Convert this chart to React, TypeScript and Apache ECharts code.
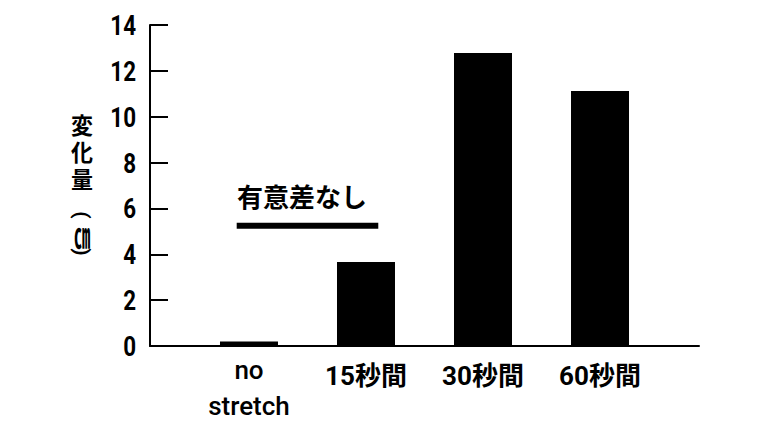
import React, { useEffect, useRef } from "react";
import * as echarts from "echarts";

const categories = ["no\nstretch", "15秒間", "30秒間", "60秒間"];
const values = [0.2, 3.66, 12.78, 11.12];
const yMin = 0;
const yMax = 14;
const yInterval = 2;
const yTickLabels = [0, 2, 4, 6, 8, 10, 12, 14];
const yNameChars = ["変", "化", "量"];
const yNameUnit = "㎝";
const annotationText = "有意差なし";
const annotationLevel = 5.25;
const annotationFrom = -0.105;
const annotationTo = 1.105;

const LAT_FONT = "Roboto, 'Noto Sans', sans-serif";
const CJK_FONT = "'Noto Sans CJK JP', sans-serif";

export default function App() {
  const ref = useRef<HTMLDivElement>(null);
  useEffect(() => {
    if (!ref.current) return;
    const chart = echarts.init(ref.current, undefined, { renderer: "svg" });
    const gridLeft = 150;
    const gridTop = 25;
    const gridWidth = 549;
    const gridHeight = 321;
    const xMinV = -0.846;
    const xMaxV = 3.846;
    const band = gridWidth / (xMaxV - xMinV);
    const g1Left = gridLeft + (-0.5 - xMinV) * band;
    chart.setOption({
      animation: false,
      backgroundColor: "#ffffff",
      grid: [
        { left: gridLeft, top: gridTop, width: gridWidth, height: gridHeight, outerBoundsMode: "none", containLabel: false },
        { left: g1Left, top: gridTop, width: band * categories.length, height: gridHeight, outerBoundsMode: "none", containLabel: false },
      ],
      xAxis: [
        {
          type: "value",
          gridIndex: 0,
          min: xMinV,
          max: xMaxV,
          axisLine: { show: true, onZero: true, lineStyle: { color: "#000", width: 2 } },
          axisTick: { show: false },
          axisLabel: { show: false },
          splitLine: { show: false },
        },
        {
          type: "category",
          gridIndex: 1,
          data: categories,
          axisLine: { show: false },
          axisTick: { show: false },
          axisLabel: {
            interval: 0,
            margin: 6,
            color: "#000",
            formatter: (v: string) =>
              v.indexOf("\n") >= 0
                ? v.split("\n").map((s) => "{lat|" + s + "}").join("\n")
                : "{cjk|" + v + "}",
            rich: {
              lat: { fontFamily: LAT_FONT, fontSize: 26, fontWeight: 500, color: "#000", lineHeight: 36 },
              cjk: { fontFamily: LAT_FONT + ", " + CJK_FONT, fontSize: 26, fontWeight: "bold", color: "#000", lineHeight: 48 },
            },
          },
        },
      ],
      yAxis: [
        {
          type: "value",
          gridIndex: 0,
          min: yMin,
          max: yMax,
          interval: yInterval,
          axisLine: { show: true, onZero: false, lineStyle: { color: "#000", width: 2 } },
          axisTick: { show: true, inside: true, length: 18, lineStyle: { color: "#000", width: 2 } },
          axisLabel: { show: false },
          splitLine: { show: false },
        },
        {
          type: "value",
          gridIndex: 1,
          min: yMin,
          max: yMax,
          interval: yInterval,
          show: false,
        },
      ],
      series: [
        {
          type: "bar",
          xAxisIndex: 1,
          yAxisIndex: 1,
          data: values,
          barWidth: 58,
          itemStyle: { color: "#000" },
        },
        {
          type: "line",
          xAxisIndex: 0,
          yAxisIndex: 0,
          data: [
            [annotationFrom, annotationLevel],
            [annotationTo, annotationLevel],
          ],
          symbol: "none",
          lineStyle: { color: "#000", width: 6, cap: "butt" },
        },
      ],
    });

    const tickTexts = yTickLabels.map((v) => {
      const y = chart.convertToPixel({ yAxisIndex: 0 }, v) as number;
      return {
        type: "text",
        x: gridLeft - 14,
        y,
        scaleX: 0.8,
        style: {
          text: String(v),
          fill: "#000",
          font: "bold 28px " + LAT_FONT,
          align: "right",
          verticalAlign: "middle",
        },
      };
    });

    const nameTexts = yNameChars.map((c, i) => ({
      type: "text",
      x: 82,
      y: 124 + i * 27,
      scaleY: 1.05,
      style: {
        text: c,
        fill: "#000",
        font: "bold 22px " + CJK_FONT,
        lineHeight: 22,
        align: "center",
        verticalAlign: "middle",
      },
    }));

    chart.setOption({
      graphic: [
        ...tickTexts,
        ...nameTexts,
        {
          type: "text",
          left: 237,
          top: 182,
          style: {
            text: annotationText,
            fill: "#000",
            font: "bold 26px " + CJK_FONT,
          },
        },
        {
          type: "text",
          x: 82,
          y: 215,
          rotation: -Math.PI / 2,
          style: { text: "(", fill: "#000", font: "bold 21px " + LAT_FONT, lineHeight: 21, align: "center", verticalAlign: "middle" },
        },
        {
          type: "text",
          x: 82,
          y: 234,
          scaleX: 0.45,
          style: { text: yNameUnit, fill: "#000", font: "bold 36px " + CJK_FONT, lineHeight: 36, align: "center", verticalAlign: "middle" },
        },
        {
          type: "text",
          x: 82,
          y: 252,
          rotation: -Math.PI / 2,
          style: { text: ")", fill: "#000", font: "bold 21px " + LAT_FONT, lineHeight: 21, align: "center", verticalAlign: "middle" },
        },
      ],
    });
    return () => chart.dispose();
  }, []);
  return <div ref={ref} style={{ position: "absolute", left: 0, top: 0, width: 768, height: 432 }} />;
}
